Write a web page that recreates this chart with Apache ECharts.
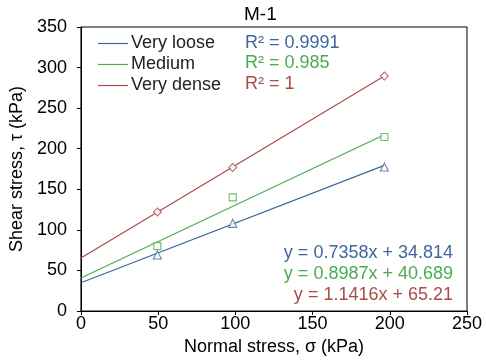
<!DOCTYPE html>
<html><head><meta charset="utf-8">
<script src="https://cdn.jsdelivr.net/npm/echarts@6/dist/echarts.min.js"></script>
<style>html,body{margin:0;padding:0;background:#fff}#c{width:486px;height:363px}</style>
</head><body><div id="c"></div>
<script>
const seriesNames = ['Very loose', 'Medium', 'Very dense'];
const colors = ['#41679a', '#4cab52', '#a84c4a'];
const symbols = ['triangle', 'rect', 'diamond'];
const normalStress = [49.5, 98.3, 196.5];
const veryLoose = [69, 108, 177.5];
const medium = [80, 140, 214.5];
const veryDense = [122, 177, 289.5];
const trendX = [0, 196.5];
const trendVeryLoose = [34.8, 179.4];
const trendMedium = [40.7, 217.3];
const trendVeryDense = [65.2, 289.5];
const r2Labels = ['R² = 0.9991', 'R² = 0.985', 'R² = 1'];
const eqLabels = ['y = 0.7358x + 34.814', 'y = 0.8987x + 40.689', 'y = 1.1416x + 65.21'];
const xTicks = [0, 250, 50];
const yTicks = [0, 350, 50];

const pts = [veryLoose, medium, veryDense];
const trends = [trendVeryLoose, trendMedium, trendVeryDense];
const font = 'Liberation Sans, Arial, sans-serif';

const series = [];
for (let i = 0; i < 3; i++) {
  series.push({
    name: seriesNames[i], type: 'line', symbol: 'none', silent: true,
    data: trendX.map((x, j) => [x, trends[i][j]]),
    lineStyle: { color: colors[i], width: 1.2 }, itemStyle: { color: colors[i] }, z: 2
  });
}
for (let i = 0; i < 3; i++) {
  series.push({
    name: seriesNames[i] + ' pts', type: 'scatter', symbol: symbols[i],
    symbolSize: symbols[i] === 'rect' ? 7 : 8,
    data: normalStress.map((x, j) => [x, pts[i][j]]),
    itemStyle: { color: '#fff', borderColor: colors[i], borderWidth: 1.1 }, z: 3
  });
}

const graphic = [];
for (let i = 0; i < 3; i++) {
  graphic.push({ type: 'text', left: 245, top: 34 + i * 20.5,
    style: { text: r2Labels[i], fill: colors[i], font: '18px ' + font } });
  graphic.push({ type: 'text', right: 33, top: 244 + i * 21,
    style: { text: eqLabels[i], fill: colors[i], font: '18px ' + font } });
}

const chart = echarts.init(document.getElementById('c'), null, { renderer: 'canvas' });
chart.setOption({
  animation: false,
  backgroundColor: '#fff',
  title: { text: 'M-1', left: 239, top: 0,
    textStyle: { fontFamily: font, fontSize: 19, fontWeight: 'normal', color: '#000' } },
  grid: { left: 80, right: 19, top: 27, bottom: 52, show: true, borderColor: '#000', borderWidth: 1, backgroundColor: 'transparent' },
  legend: { data: seriesNames, orient: 'vertical', left: 98, top: 34.5, padding: 0, icon: 'rect',
    itemWidth: 30, itemHeight: 1.2, itemGap: 3,
    textStyle: { fontFamily: font, fontSize: 18, color: '#222', padding: [0, 0, 0, -2] } },
  xAxis: { type: 'value', min: xTicks[0], max: xTicks[1], interval: xTicks[2],
    name: 'Normal stress, σ (kPa)', nameLocation: 'middle', nameGap: 26,
    nameTextStyle: { fontFamily: font, fontSize: 18, color: '#000' },
    axisLine: { lineStyle: { color: '#000' } }, axisTick: { length: 4, lineStyle: { color: '#000' } },
    axisLabel: { fontFamily: font, fontSize: 18, color: '#000', margin: 4 },
    splitLine: { show: false } },
  yAxis: { type: 'value', min: yTicks[0], max: yTicks[1], interval: yTicks[2],
    name: 'Shear stress, τ (kPa)', nameLocation: 'middle', nameGap: 50,
    nameTextStyle: { fontFamily: font, fontSize: 18, color: '#000' },
    axisLine: { show: true, lineStyle: { color: '#000' } }, axisTick: { show: true, length: 4, lineStyle: { color: '#000' } },
    axisLabel: { fontFamily: font, fontSize: 18, color: '#000', margin: 14 },
    splitLine: { show: false } },
  series: series,
  graphic: graphic
});
</script></body></html>
